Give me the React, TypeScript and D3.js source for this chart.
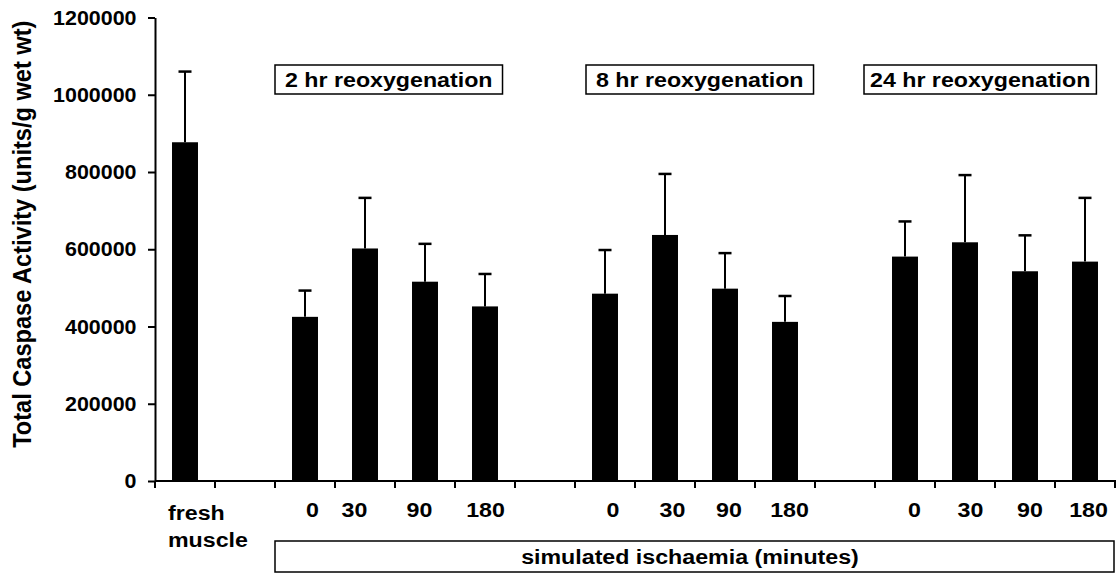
import React, { useEffect, useRef } from "react";
import * as d3 from "d3";

// ---------- data ----------
const yTicks = [0, 200000, 400000, 600000, 800000, 1000000, 1200000];
const freshLabel = ["fresh", "muscle"];
const groupTitles = ["2 hr reoxygenation", "8 hr reoxygenation", "24 hr reoxygenation"];
const groupKeys = ["2h", "8h", "24h"];
const minutes = ["0", "30", "90", "180"];
const freshMean = 877000;
const freshErr = 183000;
const mean2h = [425000, 602000, 516000, 452000];
const err2h = [68000, 131000, 98000, 84000];
const mean8h = [485000, 637000, 498000, 412000];
const err8h = [113000, 158000, 92000, 67000];
const mean24h = [581000, 618000, 543000, 568000];
const err24h = [91000, 174000, 93000, 165000];
const xTitle = "simulated ischaemia (minutes)";
const yTitle = "Total Caspase Activity (units/g wet wt)";

// ---------- layout (not data) ----------
const W = 1117;
const H = 575;
const FONT = "'Liberation Sans', Arial, Helvetica, sans-serif";
const FS = 19.5;
const SX = 1.19;
const TICK_SX = 1.1;
const labelNudge = [
  [7.5, -10.5, -5.5, 0.5],
  [8, 7.5, 4, 4.5],
  [9.5, 5.5, 5, 3.5],
];
const titleBoxLeft = [275, 586, 864];
const titlePad = [10, 10, 6];

export default function App() {
  const ref = useRef<SVGSVGElement>(null);

  useEffect(() => {
    const svg = d3.select(ref.current!);
    svg.selectAll("*").remove();

    const plotLeft = 155;
    const plotRight = 1115;
    const plotTop = 17.5;
    const plotBottom = 481;

    const slots = [
      "fresh",
      "gapA",
      ...minutes.map((m) => "2h-" + m),
      "gapB",
      ...minutes.map((m) => "8h-" + m),
      "gapC",
      ...minutes.map((m) => "24h-" + m),
    ];

    const x = d3
      .scaleBand<string>()
      .domain(slots)
      .range([plotLeft, plotRight])
      .paddingInner(0.567)
      .paddingOuter(0.2835);
    const y = d3.scaleLinear().domain([0, 1200000]).range([plotBottom, plotTop]);

    const groupMeans = [mean2h, mean8h, mean24h];
    const groupErrs = [err2h, err8h, err24h];
    const bars: { slot: string; mean: number; err: number }[] = [
      { slot: "fresh", mean: freshMean, err: freshErr },
    ];
    groupKeys.forEach((k, gi) => {
      minutes.forEach((m, i) => {
        bars.push({ slot: k + "-" + m, mean: groupMeans[gi][i], err: groupErrs[gi][i] });
      });
    });

    const cx = (s: string) => (x(s) as number) + x.bandwidth() / 2;

    const text = (
      parent: d3.Selection<any, any, any, any>,
      tx: number,
      ty: number,
      str: string,
      anchor = "middle",
      sx = SX,
      size = FS
    ) => {
      const gg = parent.append("g").attr("transform", `translate(${tx},${ty}) scale(${sx},1)`);
      return gg
        .append("text")
        .attr("text-anchor", anchor)
        .attr("font-family", FONT)
        .attr("font-weight", "bold")
        .attr("font-size", size)
        .attr("fill", "#000")
        .text(str);
    };

    // bars
    svg
      .append("g")
      .selectAll("rect")
      .data(bars)
      .join("rect")
      .attr("x", (d) => x(d.slot) as number)
      .attr("y", (d) => y(d.mean))
      .attr("width", x.bandwidth())
      .attr("height", (d) => y(0) - y(d.mean))
      .attr("fill", "#000");

    // error bars
    const eg = svg.append("g").attr("stroke", "#000");
    eg.selectAll("line.v")
      .data(bars)
      .join("line")
      .attr("class", "v")
      .attr("x1", (d) => cx(d.slot))
      .attr("x2", (d) => cx(d.slot))
      .attr("y1", (d) => y(d.mean))
      .attr("y2", (d) => y(d.mean + d.err))
      .attr("stroke-width", 2);
    eg.selectAll("line.c")
      .data(bars)
      .join("line")
      .attr("class", "c")
      .attr("x1", (d) => cx(d.slot) - 6.5)
      .attr("x2", (d) => cx(d.slot) + 6.5)
      .attr("y1", (d) => y(d.mean + d.err))
      .attr("y2", (d) => y(d.mean + d.err))
      .attr("stroke-width", 2.5);

    // y axis (line + ticks via d3 axis, labels drawn separately)
    const yAxis = d3
      .axisLeft(y)
      .tickValues(yTicks)
      .tickSize(7)
      .tickSizeOuter(0)
      .tickFormat(() => "");
    const ya = svg
      .append("g")
      .attr("transform", `translate(${plotLeft},0)`)
      .call(yAxis);
    ya.select(".domain").attr("stroke", "#000").attr("stroke-width", 2);
    ya.selectAll(".tick line").attr("stroke", "#000").attr("stroke-width", 2);
    ya.selectAll(".tick text").remove();
    yTicks.forEach((v) => {
      text(svg, plotLeft - 18.5, y(v), String(v), "end", TICK_SX).attr("dy", "0.36em");
    });

    // x axis
    const xa = svg.append("g").attr("stroke", "#000");
    xa.append("line")
      .attr("x1", plotLeft)
      .attr("x2", plotRight + 1)
      .attr("y1", plotBottom)
      .attr("y2", plotBottom)
      .attr("stroke-width", 2);
    const tickXs = d3.range(slots.length + 1).map((i) => plotLeft + i * x.step());
    xa.selectAll("line.t")
      .data(tickXs)
      .join("line")
      .attr("class", "t")
      .attr("x1", (d) => d)
      .attr("x2", (d) => d)
      .attr("y1", plotBottom)
      .attr("y2", plotBottom + 7)
      .attr("stroke-width", 2);

    // minute labels
    groupKeys.forEach((k, gi) => {
      minutes.forEach((m, i) => {
        text(svg, cx(k + "-" + m) + labelNudge[gi][i], 517, m);
      });
    });

    // fresh muscle label
    const fx = (x("fresh") as number) - (x.step() - x.bandwidth()) / 2 + 13;
    text(svg, fx, 520, freshLabel[0], "start");
    text(svg, fx, 547, freshLabel[1], "start");

    // group title boxes
    groupTitles.forEach((t, gi) => {
      const left = titleBoxLeft[gi];
      const pad = titlePad[gi];
      const gg = svg.append("g").attr("transform", `translate(${left},0) scale(${SX},1)`);
      const tt = gg
        .append("text")
        .attr("x", pad / SX)
        .attr("y", 87)
        .attr("font-family", FONT)
        .attr("font-weight", "bold")
        .attr("font-size", FS)
        .attr("fill", "#000")
        .text(t);
      const bb = (tt.node() as SVGTextElement).getBBox();
      gg.insert("rect", "text")
        .attr("x", 0)
        .attr("y", 65)
        .attr("width", bb.width + (2 * pad) / SX)
        .attr("height", 29)
        .attr("fill", "#fff")
        .attr("stroke", "#000")
        .attr("stroke-width", 1.5)
        .attr("vector-effect", "non-scaling-stroke");
    });

    // bottom title box
    const boxLeft = (x("2h-0") as number) - (x.step() - x.bandwidth()) / 2;
    svg
      .append("rect")
      .attr("x", boxLeft)
      .attr("y", 541)
      .attr("width", plotRight - 1 - boxLeft)
      .attr("height", 31)
      .attr("fill", "#fff")
      .attr("stroke", "#000")
      .attr("stroke-width", 1.5);
    text(svg, 690, 564, xTitle);

    // y title
    const yg = svg
      .append("g")
      .attr("transform", `translate(31,${(plotTop + plotBottom) / 2 - 15}) scale(1.08,1) rotate(-90)`);
    yg.append("text")
      .attr("text-anchor", "middle")
      .attr("font-family", FONT)
      .attr("font-weight", "bold")
      .attr("font-size", 23.6)
      .attr("fill", "#000")
      .text(yTitle);
  }, []);

  return (
    <svg
      ref={ref}
      width={W}
      height={H}
      viewBox={`0 0 ${W} ${H}`}
      style={{ position: "absolute", left: 0, top: 0, background: "#fff" }}
    />
  );
}
